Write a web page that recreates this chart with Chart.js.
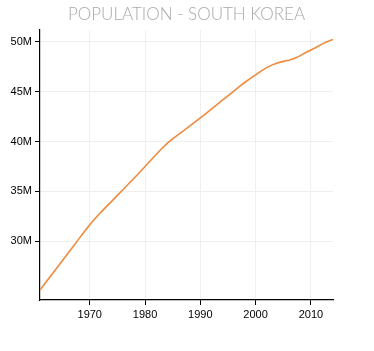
<!DOCTYPE html>
<html>
<head>
<meta charset="utf-8">
<script src="https://cdn.jsdelivr.net/npm/chart.js@4"></script>
<style>
  body { margin: 0; background: #fff; }
  #chart { display: block; }
</style>
</head>
<body>
<canvas id="chart" width="374" height="351"></canvas>
<script>
// years shown on the x axis, one point per year
const years = [
  1961, 1962, 1963, 1964, 1965, 1966, 1967, 1968, 1969, 1970,
  1971, 1972, 1973, 1974, 1975, 1976, 1977, 1978, 1979, 1980,
  1981, 1982, 1983, 1984, 1985, 1986, 1987, 1988, 1989, 1990,
  1991, 1992, 1993, 1994, 1995, 1996, 1997, 1998, 1999, 2000,
  2001, 2002, 2003, 2004, 2005, 2006, 2007, 2008, 2009, 2010,
  2011, 2012, 2013, 2014
];
// population in millions
const population = [
  25.1, 25.83, 26.56, 27.29, 28.02, 28.75, 29.48, 30.21, 30.94, 31.65,
  32.3, 32.9, 33.47, 34.03, 34.6, 35.17, 35.74, 36.32, 36.9, 37.5,
  38.1, 38.7, 39.28, 39.82, 40.28, 40.7, 41.1, 41.52, 41.95, 42.38,
  42.81, 43.25, 43.7, 44.15, 44.6, 45.05, 45.5, 45.93, 46.32, 46.7,
  47.08, 47.42, 47.7, 47.9, 48.05, 48.17, 48.35, 48.6, 48.92, 49.2,
  49.47, 49.78, 50.04, 50.25
];
const xTicks = [1970, 1980, 1990, 2000, 2010];
const yTicks = [30, 35, 40, 45, 50];

const points = years.map((y, i) => ({ x: y, y: population[i] }));
const tickFont = { family: "'Liberation Sans', Arial, sans-serif", size: 11 };

new Chart(document.getElementById("chart").getContext("2d"), {
  type: "line",
  data: {
    datasets: [
      {
        data: points,
        borderColor: "#ef8a3e",
        borderWidth: 1.6,
        pointRadius: 0,
        tension: 0,
        fill: false,
      },
    ],
  },
  options: {
    responsive: false,
    animation: false,
    devicePixelRatio: 1,
    layout: { padding: { left: 0, right: 41, top: 0, bottom: 0 } },
    plugins: {
      legend: { display: false },
      tooltip: { enabled: false },
      title: {
        display: true,
        fullSize: false,
        text: "POPULATION - SOUTH KOREA",
        color: "#a9a9a9",
        font: { family: "Lato, 'Open Sans', sans-serif", size: 17, weight: "300", lineHeight: 1.2 },
        padding: { top: 4, bottom: 5.6 },
      },
    },
    scales: {
      x: {
        type: "linear",
        min: 1961,
        max: 2014,
        afterBuildTicks: (scale) => {
          scale.ticks = xTicks.map((v) => ({ value: v }));
        },
        afterFit: (scale) => {
          scale.height = 51;
        },
        grid: { color: "#efefef", tickColor: "#000", tickLength: 5 },
        border: { color: "#000", width: 1.2 },
        ticks: {
          color: "#000",
          font: tickFont,
          padding: 3,
          maxRotation: 0,
          callback: (v) => String(v),
        },
      },
      y: {
        min: 24.1,
        max: 51.2,
        afterBuildTicks: (scale) => {
          scale.ticks = yTicks.map((v) => ({ value: v }));
        },
        afterFit: (scale) => {
          scale.width = 40;
        },
        grid: { color: "#efefef", tickColor: "#000", tickLength: 5 },
        border: { color: "#000", width: 1.2 },
        ticks: {
          color: "#000",
          font: tickFont,
          padding: 3,
          callback: (v) => v + "M",
        },
      },
    },
  },
});
</script>
</body>
</html>
